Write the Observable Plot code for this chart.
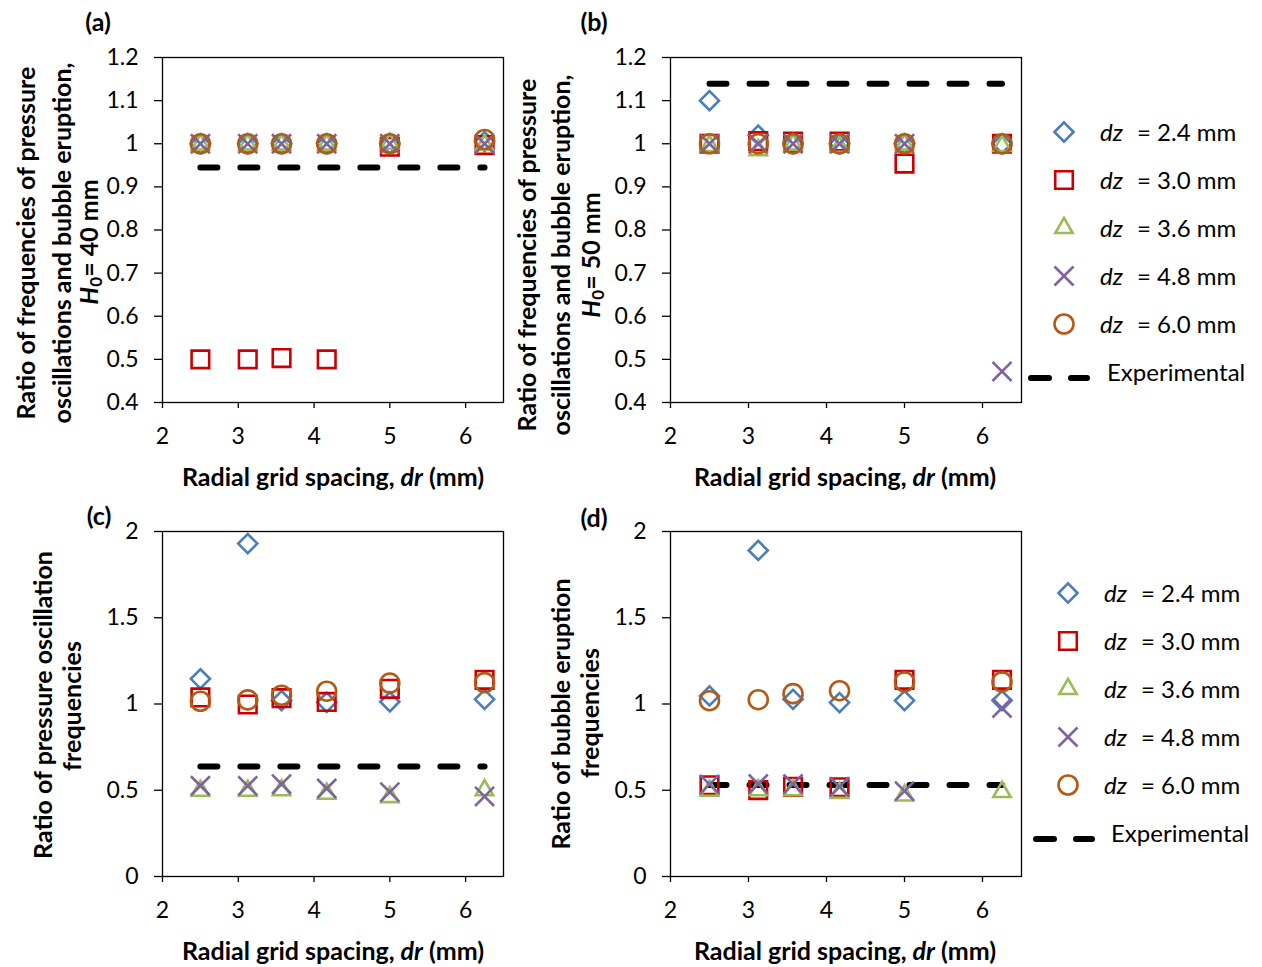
<!DOCTYPE html>
<html><head><meta charset="utf-8">
<script src="https://cdn.jsdelivr.net/npm/d3@7"></script>
<script src="https://cdn.jsdelivr.net/npm/@observablehq/plot@0.6"></script>
<style>
body{margin:0;background:#fff;}
#root{position:relative;width:1262px;height:967px;overflow:hidden;font-family:Lato,sans-serif;color:#000;background:#fff;}
.rot{position:absolute;white-space:nowrap;line-height:1;font-weight:bold;font-size:25px;transform:translate(-50%,-50%) rotate(-90deg);}
.xt{position:absolute;white-space:nowrap;line-height:1;font-weight:bold;font-size:25px;transform:translate(-50%,-50%);}
.pl{position:absolute;white-space:nowrap;line-height:1;font-weight:bold;font-size:25px;transform:translate(-50%,-50%);}
.leg{position:absolute;white-space:nowrap;line-height:1;font-size:24px;transform:translateY(-50%);}
</style></head><body><div id="root"></div>
<script>
// ---------- data ----------
const dr = [2.5, 3.125, 3.571, 4.167, 5.0, 6.25];
const dzLabels = ["2.4", "3.0", "3.6", "4.8", "6.0"];
const xTicks = [2, 3, 4, 5, 6];
const yTicksAB = [0.4, 0.5, 0.6, 0.7, 0.8, 0.9, 1, 1.1, 1.2];
const yTicksCD = [0, 0.5, 1, 1.5, 2];

// (a) H0 = 40 mm
const a_dz24 = [1.0, 1.0, 1.0, 1.0, 1.0, 1.005];
const a_dz30 = [0.5, 0.5, 0.503, 0.5, 0.993, 0.997];
const a_dz36 = [0.998, 0.998, 0.998, 0.998, 1.0, 0.997];
const a_dz48 = [1.0, 1.0, 1.0, 1.0, 1.0, 1.0];
const a_dz60 = [1.0, 1.0, 1.0, 1.0, 1.0, 1.01];
const a_exp  = [0.945, 0.945, 0.945, 0.945, 0.945, 0.945];

// (b) H0 = 50 mm
const b_dz24 = [1.10, 1.02, 1.0, 1.0, 1.0, 1.0];
const b_dz30 = [1.0, 1.006, 1.005, 1.005, 0.954, 1.0];
const b_dz36 = [0.995, 0.985, 0.998, 0.993, 0.998, 0.995];
const b_dz48 = [1.0, 1.0, 1.0, 1.0, 1.0, 0.472];
const b_dz60 = [1.0, 1.0, 1.0, 1.0, 1.0, 1.0];
const b_exp  = [1.139, 1.139, 1.139, 1.139, 1.139, 1.139];

// (c) pressure oscillation frequencies
const c_dz24 = [1.146, 1.93, 1.02, 1.01, 1.013, 1.027];
const c_dz30 = [1.038, 0.997, 1.034, 1.012, 1.088, 1.14];
const c_dz36 = [0.497, 0.497, 0.5, 0.48, 0.46, 0.5];
const c_dz48 = [0.526, 0.525, 0.535, 0.51, 0.489, 0.464];
const c_dz60 = [1.016, 1.024, 1.051, 1.074, 1.121, 1.124];
const c_exp  = [0.638, 0.638, 0.638, 0.638, 0.638, 0.638];

// (d) bubble eruption frequencies
const d_dz24 = [1.047, 1.89, 1.027, 1.008, 1.02, 1.02];
const d_dz30 = [0.529, 0.501, 0.52, 0.517, 1.14, 1.14];
const d_dz36 = [0.497, 0.5, 0.5, 0.485, 0.47, 0.49];
const d_dz48 = [0.534, 0.536, 0.536, 0.52, 0.495, 0.977];
const d_dz60 = [1.019, 1.025, 1.06, 1.077, 1.128, 1.128];
const d_exp  = [0.53, 0.53, 0.53, 0.53, 0.53, 0.53];

// ---------- styles ----------
const styles = [
  {symbol: "diamond2",  color: "#4A7EBB", r: 8.6},
  {symbol: "square2",   color: "#CC0000", r: 11.2},
  {symbol: "triangle2", color: "#9BBB59", r: 8.3},
  {symbol: "times",     color: "#7E62A1", r: 8.7},
  {symbol: "circle",    color: "#B35A16", r: 9.5}
];

const root = document.getElementById("root");

function panel(box, yDomain, yTicks, seriesVals, expVals) {
  const ml = 110, mr = 20, mt = 20, mb = 70;
  const W = box.x1 - box.x0 + ml + mr, H = box.y1 - box.y0 + mt + mb;
  const pt = vals => dr.map((x, i) => ({x, y: vals[i]}));
  const marks = [
    Plot.frame({stroke: "#000", strokeWidth: 1.3}),
    Plot.axisX({ticks: xTicks, tickSize: 6, tickPadding: 19, tickFormat: d => String(d), label: null, fontSize: 23, strokeWidth: 1.3}),
    Plot.axisY({ticks: yTicks, tickSize: 8, tickPadding: 16, tickFormat: d => String(d), label: null, fontSize: 23, strokeWidth: 1.3}),
    Plot.line(pt(expVals), {x: "x", y: "y", stroke: "#000", strokeWidth: 6, strokeDasharray: "17,23", strokeLinecap: "round"})
  ];
  seriesVals.forEach((vals, k) => {
    const s = styles[k];
    marks.push(Plot.dot(pt(vals), {x: "x", y: "y", symbol: s.symbol, r: s.r, fill: "none", stroke: s.color, strokeWidth: 2.6}));
  });
  const svg = Plot.plot({
    width: W, height: H,
    marginLeft: ml, marginRight: mr, marginTop: mt, marginBottom: mb,
    x: {domain: [2, 6.5]},
    y: {domain: yDomain},
    style: {fontFamily: "Lato, sans-serif", color: "#000", background: "transparent", overflow: "visible"},
    marks
  });
  const wrap = document.createElement("div");
  wrap.style.position = "absolute";
  wrap.style.left = (box.x0 - ml) + "px";
  wrap.style.top = (box.y0 - mt) + "px";
  wrap.appendChild(svg);
  root.appendChild(wrap);
}

panel({x0: 162, x1: 503, y0: 57, y1: 402}, [0.4, 1.2], yTicksAB, [a_dz24, a_dz30, a_dz36, a_dz48, a_dz60], a_exp);
panel({x0: 670, x1: 1021, y0: 57, y1: 402}, [0.4, 1.2], yTicksAB, [b_dz24, b_dz30, b_dz36, b_dz48, b_dz60], b_exp);
panel({x0: 162, x1: 503, y0: 531, y1: 876}, [0, 2], yTicksCD, [c_dz24, c_dz30, c_dz36, c_dz48, c_dz60], c_exp);
panel({x0: 670, x1: 1021, y0: 531, y1: 876}, [0, 2], yTicksCD, [d_dz24, d_dz30, d_dz36, d_dz48, d_dz60], d_exp);

function addEl(cls, html, x, y) {
  const d = document.createElement("div");
  d.className = cls;
  d.innerHTML = html;
  d.style.left = x + "px";
  d.style.top = y + "px";
  root.appendChild(d);
  return d;
}

// panel labels
addEl("pl", "(a)", 98, 21);
addEl("pl", "(b)", 594, 21);
addEl("pl", "(c)", 99, 515);
addEl("pl", "(d)", 594, 517);

// x titles
const xt = "Radial grid spacing, <i>dr</i> (mm)";
addEl("xt", xt, 333, 476);
addEl("xt", xt, 845, 476);
addEl("xt", xt, 333, 950);
addEl("xt", xt, 845, 950);

// y titles
const sub = "<sub style='font-size:17px;vertical-align:-4px'>0</sub>";
addEl("rot", "Ratio of frequencies of pressure", 25, 243);
addEl("rot", "oscillations and bubble eruption,", 61, 243);
addEl("rot", "<i>H</i>" + sub + "= 40 mm", 90, 242);
addEl("rot", "Ratio of frequencies of pressure", 526, 255);
addEl("rot", "oscillations and bubble eruption,", 560, 255);
addEl("rot", "<i>H</i>" + sub + "= 50 mm", 592, 255);
addEl("rot", "Ratio of pressure oscillation", 42, 705);
addEl("rot", "frequencies", 71, 706);
addEl("rot", "Ratio of bubble eruption", 560, 714);
addEl("rot", "frequencies", 589, 713);

// legends
function symbolSvg(s) {
  let shape;
  if (s.symbol === "circle") {
    shape = `<circle cx="15" cy="15" r="${s.r}" fill="none" stroke="${s.color}" stroke-width="2.6"/>`;
  } else {
    const map = {diamond2: d3.symbolDiamond2, square2: d3.symbolSquare2, triangle2: d3.symbolTriangle2, times: d3.symbolTimes};
    const p = d3.symbol().type(map[s.symbol]).size(Math.PI * s.r * s.r)();
    shape = `<path transform="translate(15,15)" d="${p}" fill="none" stroke="${s.color}" stroke-width="2.6"/>`;
  }
  return `<svg width="30" height="30" style="position:absolute;left:-15px;top:-15px;overflow:visible">${shape}</svg>`;
}
function legend(sx, rows, dzX, eqX, dash0, dash1, expY, expX) {
  styles.forEach((s, k) => {
    const holder = document.createElement("div");
    holder.style.position = "absolute";
    holder.style.left = sx + "px";
    holder.style.top = rows[k] + "px";
    holder.innerHTML = symbolSvg(s);
    root.appendChild(holder);
    addEl("leg", "<i>dz</i>", dzX, rows[k]);
    addEl("leg", "= " + dzLabels[k] + " mm", eqX, rows[k]);
  });
  const dh = document.createElement("div");
  dh.style.position = "absolute";
  dh.style.left = dash0 + "px";
  dh.style.top = (expY - 5) + "px";
  dh.innerHTML = `<svg width="${dash1 - dash0 + 6}" height="10"><line x1="3" y1="5" x2="${dash1 - dash0 - 3}" y2="5" stroke="#000" stroke-width="6" stroke-linecap="round" stroke-dasharray="18,22"/></svg>`;
  root.appendChild(dh);
  addEl("leg", "Experimental", expX, expY);
}
legend(1064, [132, 180, 228, 276, 324], 1100, 1137, 1028, 1090, 372, 1107);
legend(1068, [593, 641, 689, 737, 785], 1104, 1141, 1033, 1095, 833, 1111);
</script></body></html>
